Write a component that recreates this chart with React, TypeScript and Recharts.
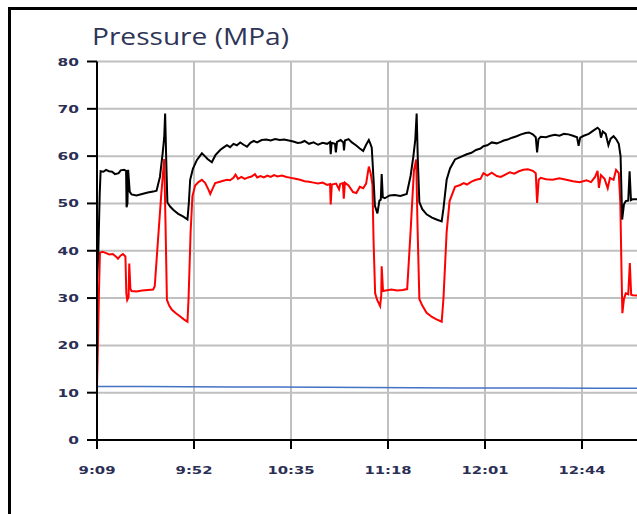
import React from "react";
import { LineChart, Line, XAxis, YAxis, CartesianGrid } from "recharts";

// minutes after 9:09 -> MPa
const blackSeries: [number, number][] = [
  [0, 34], [0.6, 40], [1.2, 52], [1.6, 56.8], [2.8, 56.7], [4, 57.1], [5.3, 56.8], [6.7, 56.7],
  [8, 56.2], [9.6, 56.4], [10.5, 57.0], [12, 57.1], [12.9, 56.9], [13.1, 49.2], [13.5, 50],
  [13.8, 57.1], [14.5, 52.5], [15.3, 51.9], [17.5, 51.7], [20, 52.0], [22.5, 52.3], [24.9, 52.5],
  [26.4, 52.7], [27.9, 55.6], [29.1, 60.6], [29.8, 64], [30.2, 69], [30.7, 59], [31.2, 50.2],
  [32.5, 49.3], [33.9, 48.6], [36, 47.8], [38.3, 47.2], [40.1, 46.6], [40.7, 50], [41.3, 55],
  [42.5, 57.3], [44.3, 59.2], [46.5, 60.6], [47.8, 60.0], [49, 59.4], [50.9, 58.7], [52.5, 60.2],
  [54.6, 61.3], [56, 61.8], [57.6, 62.3], [59, 61.9], [60.5, 62.6], [62, 62.3], [63.5, 62.9],
  [65, 62.4], [66.5, 62.0], [68, 62.8], [69.5, 63.2], [71, 62.9], [73, 63.4], [75, 63.5],
  [77, 63.3], [79, 63.6], [81, 63.4], [83, 63.5], [85, 63.3], [87, 63.1], [89, 62.8],
  [90.5, 62.9], [92, 63.2], [94, 62.6], [96, 62.9], [98, 62.4], [100, 62.8], [102, 62.6],
  [103.3, 63.0], [103.6, 60.4], [104, 62.8], [105.5, 62.6], [105.9, 60.8], [106.4, 63.0],
  [108, 63.4], [109.2, 62.9], [109.5, 61.2], [109.9, 63.3], [111.5, 63.6], [113, 62.9],
  [114.8, 62.3], [116.5, 61.6], [118, 61.1], [119.3, 62.4], [120.5, 63.4], [121.2, 62.6],
  [121.8, 61.8], [122.6, 55], [123.2, 49.5], [124.3, 47.9], [125.2, 50.6], [125.8, 50.8],
  [126.2, 56.2], [126.7, 51.3], [127.6, 51.1], [129.7, 51.7], [132, 51.8], [134.5, 51.6],
  [137.3, 52.0], [139, 55.8], [140.2, 59.8], [141.1, 63.5], [141.7, 69], [142.2, 59.5],
  [142.9, 50.3], [144.2, 48.8], [146.1, 47.7], [148.5, 47], [150.5, 46.6], [152.8, 46.2],
  [153.6, 49], [155, 55], [156.5, 57.4], [158.7, 59.3], [161, 59.8], [163.9, 60.4], [166, 60.7],
  [168, 61.3], [170, 61.6], [171.3, 62.1], [173, 62.3], [175, 62.9], [177.2, 62.7], [179, 63.0],
  [180.3, 63.3], [182, 63.5], [184, 63.9], [186, 64.2], [188, 64.6], [190, 64.9], [191.5, 65.0],
  [193.2, 64.6], [194.5, 64.0], [195.1, 60.8], [195.7, 63.6], [196.7, 64.1], [199, 64.0],
  [201, 64.3], [203, 64.5], [205, 64.3], [207, 64.7], [209, 64.6], [211, 64.3], [212.8, 64.0],
  [213.5, 62.2], [214.2, 63.9], [215.8, 64.3], [218, 64.7], [220, 65.4], [221.9, 66.0],
  [222.8, 65.6], [223.4, 63.9], [224.2, 65.2], [225.5, 64.7], [226.7, 62.3], [227.7, 63.7],
  [229, 64.2], [230.1, 63.6], [231.3, 62.6], [232.1, 60], [232.8, 46.6], [233.6, 49.8],
  [234.4, 50.5], [235.5, 50.6], [236.1, 56.8], [236.7, 50.7], [237.6, 50.9], [239.8, 50.9],
  [242, 51.1],
];

const redSeries: [number, number][] = [
  [0, 11.3], [0.4, 20], [0.9, 32], [1.3, 39.6], [2.5, 39.8], [4, 39.5], [5.5, 39.2], [7, 39.3],
  [8.6, 38.7], [9.3, 38.3], [10.5, 39.0], [11.5, 39.3], [12.6, 38.8], [13.0, 31], [13.4, 29.6],
  [14.0, 30.2], [14.3, 37.3], [14.8, 32], [15.3, 31.5], [17.5, 31.4], [20, 31.6], [22.5, 31.7],
  [24.9, 31.8], [25.6, 32.5], [27, 42], [28.5, 52], [29.8, 59.4], [30.4, 45], [31.0, 29.6],
  [32, 28.4], [33.2, 27.5], [35, 26.8], [36.9, 26.1], [38.5, 25.5], [40.1, 25.0], [40.6, 30],
  [41.5, 44], [42.3, 51.5], [43.5, 53.8], [45, 54.5], [46.5, 55.0], [48, 54.3], [49.5, 52.8],
  [50.2, 52.0], [51.3, 53.2], [52.4, 54.3], [54.5, 54.6], [56, 54.8], [57.6, 55.0], [59, 54.9],
  [60.5, 55.4], [61.4, 56.1], [62.5, 55.2], [64, 55.6], [65.5, 55.2], [67, 55.5], [68.5, 55.7],
  [70, 56.2], [71, 55.5], [72.5, 55.8], [74, 55.5], [75.5, 55.9], [77, 55.6], [78.5, 56.0],
  [80, 55.7], [82, 55.9], [84, 55.6], [86, 55.4], [88, 55.2], [90, 55.0], [92, 54.7], [94, 54.6],
  [96, 54.4], [98, 54.2], [100, 54.4], [102, 53.9], [103.3, 54.1], [103.6, 49.8], [104.1, 54.0],
  [106, 54.2], [107.3, 53.0], [107.8, 54.1], [109, 54.3], [109.4, 51.0], [109.9, 54.4],
  [111.5, 53.8], [113.5, 52.4], [115, 52.2], [116.5, 53.5], [118, 53.2], [119.3, 54.2],
  [120.5, 57.8], [121.3, 56.4], [122.1, 54], [122.6, 42], [123.3, 31], [124.2, 29.6],
  [125.5, 28.3], [126.0, 30.5], [126.2, 36.7], [126.8, 31.5], [128, 31.6], [130.5, 31.8],
  [133, 31.6], [135.5, 31.7], [137.5, 31.9], [139, 44], [140.5, 57], [141.5, 59.3], [142.1, 45],
  [142.9, 29.8], [144.2, 28.4], [146.1, 26.9], [148.5, 26], [150.5, 25.5], [152.8, 25.0],
  [153.6, 30], [155, 44], [156.3, 50.5], [158.7, 53.5], [161, 53.9], [162.6, 54.3], [164, 54.0],
  [166, 54.6], [168, 55.0], [170, 55.2], [171.3, 56.4], [173, 55.9], [175, 56.5], [177.2, 55.8],
  [179, 55.6], [181, 56.1], [183, 56.6], [185, 56.3], [187, 56.8], [189, 57.1], [191, 57.2],
  [193.2, 56.9], [194.5, 56.4], [195.1, 50.1], [195.8, 55.0], [196.7, 55.4], [199, 55.1],
  [202, 55.0], [205, 55.3], [208, 55.0], [211, 54.7], [214, 54.5], [217, 54.9], [219, 54.5],
  [220.8, 55.6], [221.9, 56.9], [222.5, 53.3], [223.4, 56.0], [225, 55.2], [226.4, 53.2],
  [227.4, 55.4], [229, 55.0], [230.1, 57.1], [231.3, 56.4], [232, 50], [232.5, 36], [232.9, 26.8],
  [233.6, 29.8], [234.4, 31.0], [235.5, 30.8], [236.2, 37.4], [236.8, 30.7], [237.6, 30.6],
  [239.8, 30.5], [242, 30.6],
];

const blueSeries: [number, number][] = [
  [0, 11.3], [20, 11.3], [40, 11.25], [60, 11.2], [80, 11.2], [100, 11.15], [120, 11.1],
  [140, 11.05], [160, 11.0], [180, 11.0], [200, 11.0], [220, 10.95], [242, 10.95],
];

const xTicks = [0, 43, 86, 129, 172, 215];
const xTickLabels = ["9:09", "9:52", "10:35", "11:18", "12:01", "12:44"];
const yTicks = [0, 10, 20, 30, 40, 50, 60, 70, 80];

const toRows = (pts: [number, number][]) => pts.map(([t, v]) => ({ t, v }));

const LABEL_COLOR = "#2c2f55";

function YTick(props: any) {
  const { x, y, payload } = props;
  return (
    <text
      transform={`translate(${x},${y}) scale(1.4,1)`}
      x={0}
      y={0}
      dy={4}
      textAnchor="end"
      fill={LABEL_COLOR}
      fontSize={11}
      fontWeight="bold"
      fontFamily="DejaVu Sans"
    >
      {payload.value}
    </text>
  );
}

function XTick(props: any) {
  const { x, y, payload } = props;
  const idx = xTicks.indexOf(payload.value);
  return (
    <text
      transform={`translate(${x},${y}) scale(1.35,1)`}
      x={0}
      y={0}
      dy={23}
      textAnchor="middle"
      fill={LABEL_COLOR}
      fontSize={11}
      fontWeight="bold"
      fontFamily="DejaVu Sans"
    >
      {idx >= 0 ? xTickLabels[idx] : ""}
    </text>
  );
}

export default function App() {
  return (
    <div
      style={{
        position: "absolute",
        left: 0,
        top: 0,
        width: 637,
        height: 514,
        overflow: "hidden",
        background: "#fff",
      }}
    >
      <div
        style={{
          position: "absolute",
          left: 8,
          top: 7,
          width: 700,
          height: 600,
          borderLeft: "3px solid #000",
          borderTop: "3px solid #000",
        }}
      />
      <div
        style={{
          position: "absolute",
          left: 92,
          top: 24,
          fontFamily: "Open Sans",
          fontSize: 24,
          lineHeight: 1,
          color: "#2f3556",
          whiteSpace: "nowrap",
          transform: "scaleX(1.17)",
          transformOrigin: "left center",
        }}
      >
        Pressure (MPa)
      </div>
      <div style={{ position: "absolute", left: 0, top: 0 }}>
        <LineChart
          width={700}
          height={514}
          margin={{ top: 61.5, right: 21, bottom: 0, left: 0 }}
        >
          <CartesianGrid stroke="#c0c0c0" strokeWidth={2} />
          <XAxis
            dataKey="t"
            type="number"
            domain={[0, 258]}
            ticks={xTicks}
            interval={0}
            height={74}
            tickSize={9}
            tickMargin={2}
            tick={<XTick />}
            axisLine={{ stroke: "#000", strokeWidth: 2 }}
            tickLine={{ stroke: "#000", strokeWidth: 2 }}
            allowDataOverflow
          />
          <YAxis
            type="number"
            domain={[0, 80]}
            ticks={yTicks}
            interval={0}
            width={97}
            tickSize={10}
            tickMargin={8}
            tick={<YTick />}
            axisLine={{ stroke: "#000", strokeWidth: 2 }}
            tickLine={{ stroke: "#000", strokeWidth: 2 }}
          />
          <Line
            data={toRows(blueSeries)}
            dataKey="v"
            stroke="#4472c4"
            strokeWidth={1.5}
            dot={false}
            isAnimationActive={false}
          />
          <Line
            data={toRows(redSeries)}
            dataKey="v"
            stroke="#ff0000"
            strokeWidth={2}
            dot={false}
            isAnimationActive={false}
          />
          <Line
            data={toRows(blackSeries)}
            dataKey="v"
            stroke="#000000"
            strokeWidth={2}
            dot={false}
            isAnimationActive={false}
          />
        </LineChart>
      </div>
    </div>
  );
}
